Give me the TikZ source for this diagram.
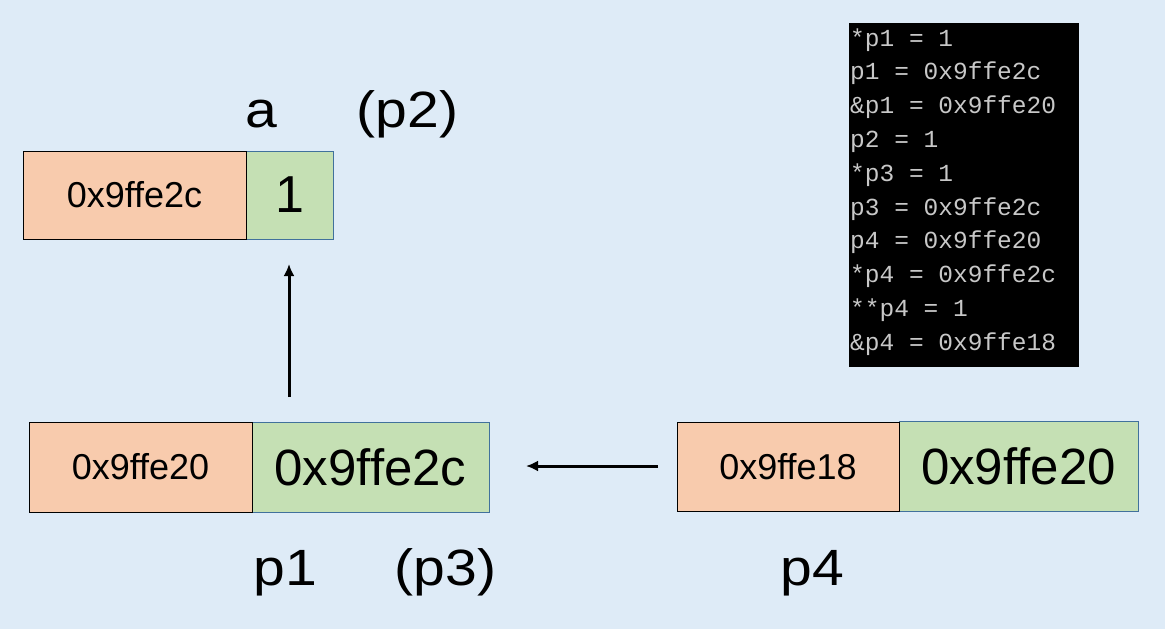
\documentclass[tikz,border=0pt]{standalone}
\usepackage{fontspec}
\setmainfont{Liberation Sans}
\newfontfamily\consolefont{Liberation Mono}
\newfontfamily\lblfont{Liberation Sans}[FakeStretch=1.12]
\usetikzlibrary{arrows.meta}
\definecolor{bg}{HTML}{DEEBF7}
\definecolor{addrfill}{HTML}{F8CBAD}
\definecolor{valfill}{HTML}{C5E0B4}
\definecolor{valborder}{HTML}{41719C}
\definecolor{contxt}{HTML}{C8C8C8}
\begin{document}
\begin{tikzpicture}[x=1pt,y=-1pt,
  cell/.style={rectangle, inner sep=0pt, outer sep=0pt, anchor=north west, line width=1pt},
  addrbox/.style={cell, draw=black, fill=addrfill, font=\fontsize{36}{40}\selectfont},
  valbox/.style={cell, draw=valborder, fill=valfill},
  bigval/.style={font=\fontsize{51}{56}\selectfont},
  lbl/.style={anchor=base, inner sep=0pt, font=\lblfont\fontsize{51}{56}\selectfont},
  conline/.style={anchor=base west, inner sep=0pt, text=contxt, font=\consolefont\fontsize{24.5}{30}\selectfont},
  arr/.style={line width=3pt, -{Latex[length=12pt,width=11pt]}}
]
\fill[bg] (0,0) rectangle (1165,629);
\useasboundingbox (0,0) rectangle (1165,629);

% top: a
\node[valbox, minimum width=87pt, minimum height=88pt, font=\fontsize{52}{56}\selectfont] (aval) at (246,151) {1};
\node[addrbox, minimum width=223pt, minimum height=88pt] (aaddr) at (23,151) {0x9ffe2c};

% middle: p1
\node[valbox, bigval, minimum width=237pt, minimum height=90pt] (p1val) at (252,422) {0x9ffe2c};
\node[addrbox, minimum width=223pt, minimum height=90pt] (p1addr) at (29,422) {0x9ffe20};

% right: p4
\node[valbox, bigval, minimum width=239pt, minimum height=90pt] (p4val) at (899,421) {0x9ffe20};
\node[addrbox, minimum width=222pt, minimum height=89pt] (p4addr) at (677,422) {0x9ffe18};

% labels
\node[lbl] (la) at (261.5,127) {a};
\node[lbl] (lp2) at (407.5,127) {(p2)};
\node[lbl] (lp1) at (285.5,585) {p1};
\node[lbl] (lp3) at (445.5,585) {(p3)};
\node[lbl] (lp4) at (812.5,585) {p4};

% arrows
\coordinate (v1) at (289,397);
\coordinate (v2) at (289,264);
\draw[arr] (v1) -- (v2);
\coordinate (h1) at (658,466);
\coordinate (h2) at (526,466);
\draw[arr] (h1) -- (h2);

% console
\node[rectangle, fill=black, inner sep=0pt, anchor=north west, minimum width=230pt, minimum height=344pt] (con) at (849,23) {};
\foreach \t [count=\i from 0] in {*p1 = 1, p1 = 0x9ffe2c, \&p1 = 0x9ffe20, p2 = 1, *p3 = 1, p3 = 0x9ffe2c, p4 = 0x9ffe20, *p4 = 0x9ffe2c, **p4 = 1, \&p4 = 0x9ffe18}
  \node[conline] (c\i) at (850,{46+33.8*\i}) {\t};
\end{tikzpicture}
\end{document}
